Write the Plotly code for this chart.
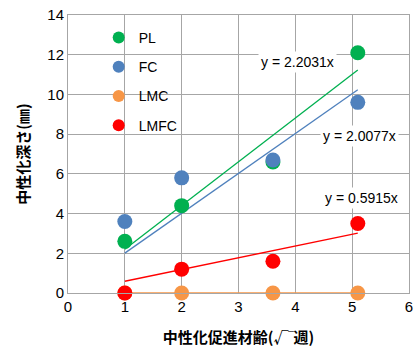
import math
import plotly.graph_objects as go

# Carbonation age (sqrt of weeks: 1, 4, 13, 26 weeks)
weeks = [1, 4, 13, 26]
x_age = [math.sqrt(w) for w in weeks]

# Carbonation depth (mm) per mix
series_names = ["PL", "FC", "LMC", "LMFC"]
depth_pl = [2.6, 4.4, 6.6, 12.1]
depth_fc = [3.6, 5.8, 6.7, 9.6]
depth_lmc = [0.0, 0.0, 0.0, 0.0]
depth_lmfc = [0.0, 1.2, 1.6, 3.5]

# Slopes of the linear fits through the origin
slope_pl = 2.2031
slope_fc = 2.0077
slope_lmc = 0.0
slope_lmfc = 0.5915

colors = {"PL": "#00B050", "FC": "#4F81BD", "LMC": "#F79646", "LMFC": "#FF0000"}

fig = go.Figure()

data = [
    ("PL", depth_pl, slope_pl),
    ("FC", depth_fc, slope_fc),
    ("LMC", depth_lmc, slope_lmc),
    ("LMFC", depth_lmfc, slope_lmfc),
]

# trend lines
x_fit = [min(x_age), max(x_age)]
for name, ys, k in data:
    fig.add_trace(go.Scatter(
        x=x_fit, y=[k * v for v in x_fit], mode="lines",
        line=dict(color=colors[name], width=1.3),
        showlegend=False, hoverinfo="skip", cliponaxis=False,
    ))

# measured points
for name, ys, k in data:
    fig.add_trace(go.Scatter(
        x=x_age, y=ys, mode="markers", name=name, legendgroup=name,
        marker=dict(color=colors[name], size=15, line=dict(width=0)),
        cliponaxis=False,
    ))

label_font = dict(family="Liberation Sans, Arial, sans-serif", size=14, color="#000000")
eq_labels = [
    (4.03, 11.65, f"y = {slope_pl:.4f}x"),
    (5.13, 7.9, f"y = {slope_fc:.4f}x"),
    (5.17, 4.78, f"y = {slope_lmfc:.4f}x"),
]
for xa, ya, txt in eq_labels:
    fig.add_annotation(x=xa, y=ya, text=txt, showarrow=False, font=label_font,
                       bgcolor="white", borderpad=2)

fig.update_layout(
    width=419, height=350,
    margin=dict(l=68, r=6, t=12, b=56),
    paper_bgcolor="white", plot_bgcolor="white",
    font=dict(family="Liberation Sans, Arial, sans-serif", size=14, color="#000000"),
    legend=dict(x=0.09, y=0.975, xanchor="left", yanchor="top",
                bgcolor="rgba(0,0,0,0)", font=dict(size=14),
                tracegroupgap=8, itemsizing="constant"),
    xaxis=dict(range=[0, 6], dtick=1, tick0=0, showgrid=True, gridcolor="#A6A6A6",
               gridwidth=1, showline=True, linecolor="#A6A6A6", mirror=True,
               zeroline=False, ticks="", tickfont=dict(size=15),
               title=dict(text="中性化促進材齢(√‾週)",
                          font=dict(family="Noto Sans CJK JP", size=15, weight="bold"),
                          standoff=18)),
    yaxis=dict(range=[0, 14], dtick=2, tick0=0, showgrid=True, gridcolor="#A6A6A6",
               gridwidth=1, showline=True, linecolor="#A6A6A6", mirror=True,
               zeroline=False, ticks="", tickfont=dict(size=15),
               title=dict(text="中性化深さ(㎜)",
                          font=dict(family="Noto Sans CJK JP", size=15, weight="bold"),
                          standoff=14)),
)

fig.write_html("out.html")
